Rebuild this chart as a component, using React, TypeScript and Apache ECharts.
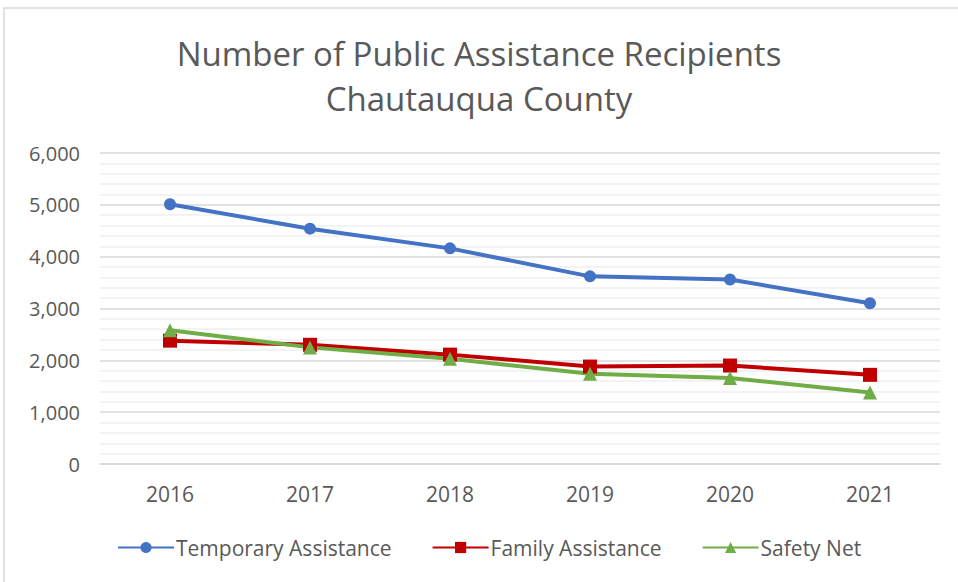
import React, { useEffect, useRef } from "react";
import * as echarts from "echarts";

const years = ["2016", "2017", "2018", "2019", "2020", "2021"];
const temporaryAssistance = [5010, 4540, 4160, 3620, 3560, 3100];
const familyAssistance = [2380, 2300, 2110, 1880, 1900, 1720];
const safetyNet = [2580, 2250, 2030, 1740, 1660, 1380];
const titleLines = ["Number of Public Assistance Recipients", "Chautauqua County"];
const seriesNames = ["Temporary Assistance", "Family Assistance", "Safety Net"];

export default function App() {
  const ref = useRef<HTMLDivElement>(null);
  useEffect(() => {
    document.body.style.margin = "0";
    const chart = echarts.init(ref.current!, null, { renderer: "svg" });
    const font = "'Open Sans', 'Liberation Sans', sans-serif";
    const mk = (name: string, data: number[], color: string, symbol: string, size: number) => ({
      name,
      type: "line",
      data,
      symbol,
      symbolSize: size,
      lineStyle: { color, width: 4 },
      itemStyle: { color },
    });
    chart.setOption({
      animation: false,
      backgroundColor: "#ffffff",
      textStyle: { fontFamily: font },
      graphic: [
        {
          type: "rect",
          shape: { x: 4, y: 8, width: 960, height: 580 },
          style: { fill: "none", stroke: "#d9d9d9", lineWidth: 1.5 },
          silent: true,
        },
      ],
      title: {
        text: titleLines.join("\n"),
        left: "center",
        top: 26,
        textStyle: {
          fontFamily: font,
          fontWeight: "normal",
          fontSize: 33,
          color: "#595959",
          lineHeight: 45,
        },
      },
      grid: { left: 100, right: 18, top: 153, bottom: 118 },
      xAxis: {
        type: "category",
        data: years,
        axisLine: { lineStyle: { color: "#d9d9d9", width: 1.5 } },
        axisTick: { show: false },
        axisLabel: { color: "#595959", fontSize: 21, margin: 19, fontFamily: font },
      },
      yAxis: {
        type: "value",
        min: 0,
        max: 6000,
        interval: 1000,
        axisLine: { show: false },
        axisTick: { show: false },
        axisLabel: {
          color: "#595959",
          fontSize: 20,
          margin: 20,
          fontFamily: font,
          formatter: (v: number) => v.toLocaleString("en-US"),
        },
        splitLine: { lineStyle: { color: "#d9d9d9", width: 1.5 } },
        minorTick: { show: false, splitNumber: 5 },
        minorSplitLine: { show: true, lineStyle: { color: "#efefef", width: 1.5 } },
      },
      legend: {
        top: 532,
        left: 112,
        itemWidth: 56,
        itemHeight: 14,
        itemGap: 40,
        textStyle: { color: "#595959", fontSize: 21, fontFamily: font, padding: [0, 0, 0, -3] },
        data: seriesNames,
      },
      series: [
        mk(seriesNames[0], temporaryAssistance, "#4472C4", "circle", 12),
        mk(seriesNames[1], familyAssistance, "#C00000", "rect", 14),
        mk(seriesNames[2], safetyNet, "#70AD47", "triangle", 14),
      ],
    });
    return () => chart.dispose();
  }, []);
  return <div ref={ref} style={{ width: 958, height: 582 }} />;
}
